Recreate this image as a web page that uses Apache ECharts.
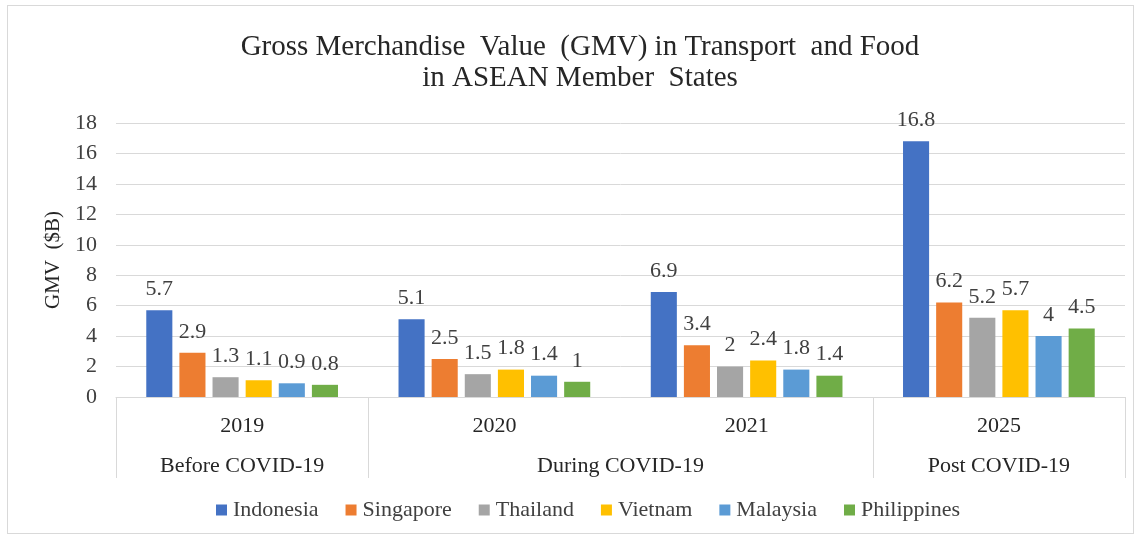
<!DOCTYPE html>
<html>
<head>
<meta charset="utf-8">
<script src="https://cdn.jsdelivr.net/npm/echarts@6/dist/echarts.min.js"></script>
<style>
html,body{margin:0;padding:0;background:#fff;}
#frame{position:absolute;left:7px;top:5px;width:1127px;height:529px;border:1px solid #d9d9d9;box-sizing:border-box;}
#chart{position:absolute;left:0;top:0;width:1142px;height:541px;}
</style>
</head>
<body>
<div id="frame"></div>
<div id="chart"></div>
<script>
const years = ['2019', '2020', '2021', '2025'];
const periods = ['Before COVID-19', 'During COVID-19', 'Post COVID-19'];
const periodSpans = [1, 2, 1];
const countries = ['Indonesia', 'Singapore', 'Thailand', 'Vietnam', 'Malaysia', 'Philippines'];
const indonesia = [5.7, 5.1, 6.9, 16.8];
const singapore = [2.9, 2.5, 3.4, 6.2];
const thailand = [1.3, 1.5, 2, 5.2];
const vietnam = [1.1, 1.8, 2.4, 5.7];
const malaysia = [0.9, 1.4, 1.8, 4];
const philippines = [0.8, 1, 1.4, 4.5];
const yTicks = [0, 2, 4, 6, 8, 10, 12, 14, 16, 18];

const seriesData = [indonesia, singapore, thailand, vietnam, malaysia, philippines];
const colors = ['#4472C4', '#ED7D31', '#A5A5A5', '#FFC000', '#5B9BD5', '#70AD47'];

// period boundaries and centers (in category units)
const bounds = [0];
periodSpans.forEach(s => bounds.push(bounds[bounds.length - 1] + s));
const centers = periods.map((p, i) => (bounds[i] + bounds[i + 1]) / 2);

const font = 'Liberation Serif';
const chart = echarts.init(document.getElementById('chart'));
chart.setOption({
  animation: false,
  title: {
    text: 'Gross Merchandise  Value  (GMV) in Transport  and Food\nin ASEAN Member  States',
    left: 575, top: 27, textAlign: 'center',
    textStyle: { fontFamily: font, fontSize: 29, fontWeight: 'normal', color: '#262626', lineHeight: 31 }
  },
  legend: {
    data: countries, bottom: 15, left: 211,
    itemWidth: 11, itemHeight: 11, itemGap: 27, icon: 'rect',
    textStyle: { fontFamily: font, fontSize: 22, color: '#404040', padding: [0, 0, 0, 1] }
  },
  grid: { left: 116, right: 17, top: 123, bottom: 144 },
  xAxis: [
    {
      type: 'category', data: years, position: 'bottom',
      axisLine: { show: true, lineStyle: { color: '#d9d9d9', width: 1 } },
      axisTick: { show: false },
      axisLabel: { margin: 18, fontFamily: font, fontSize: 22, color: '#262626' }
    },
    {
      type: 'value', min: 0, max: years.length, position: 'bottom',
      axisLine: { show: false },
      splitLine: { show: false },
      axisTick: { show: true, customValues: bounds, length: 81, lineStyle: { color: '#d9d9d9', width: 1 } },
      axisLabel: {
        customValues: centers, margin: 58, fontFamily: font, fontSize: 22, color: '#262626',
        formatter: v => { const i = centers.indexOf(v); return i >= 0 ? periods[i] : ''; }
      }
    }
  ],
  yAxis: {
    type: 'value', min: yTicks[0], max: yTicks[yTicks.length - 1], interval: 2,
    name: 'GMV  ($B)', nameLocation: 'middle', nameGap: 50, nameRotate: 90,
    nameTextStyle: { fontFamily: font, fontSize: 21, color: '#262626' },
    axisLine: { show: false }, axisTick: { show: false },
    axisLabel: { margin: 19, fontFamily: font, fontSize: 22, color: '#404040' },
    splitLine: { lineStyle: { color: '#d9d9d9', width: 1 } }
  },
  series: countries.map((c, i) => ({
    name: c, type: 'bar', xAxisIndex: 0, data: seriesData[i],
    barCategoryGap: '24%', barGap: '27%',
    itemStyle: { color: colors[i] },
    label: { show: true, position: 'top', distance: 10, fontFamily: font, fontSize: 22, color: '#404040' }
  }))
});
</script>
</body>
</html>
